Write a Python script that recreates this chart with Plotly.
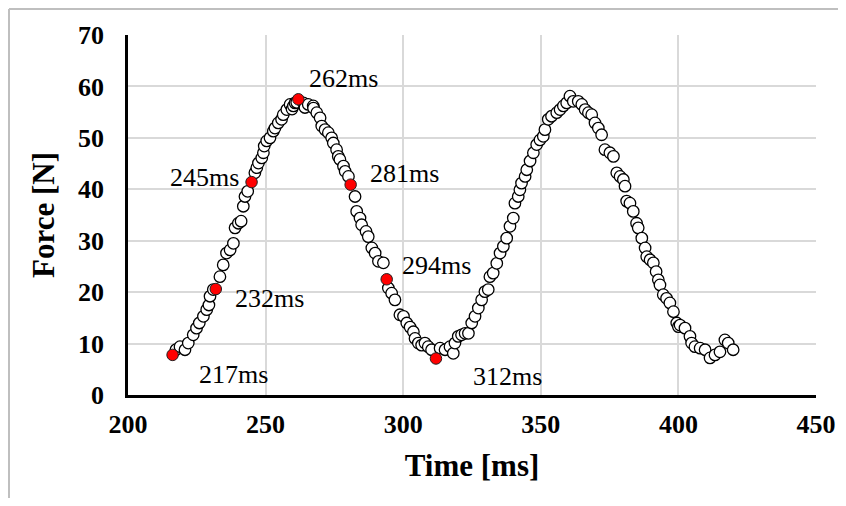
import plotly.graph_objects as go

# ---- data ----
time_ms = [
    217.4, 218.9, 220.7, 221.9, 223.7, 224.9, 225.9, 227.4, 228.6, 229.4, 229.8, 231.0,
    233.4, 234.6, 235.8, 237.1, 238.3, 238.9, 240.1, 241.1, 241.9, 242.5, 243.5,
    246.1, 246.8, 247.4, 248.6, 249.2, 249.5, 250.4, 251.6, 252.8, 253.4, 254.6, 255.8,
    256.4, 257.7, 258.9, 259.6, 260.1, 260.7, 261.3,
    263.7, 264.3, 265.5, 267.3, 267.4, 268.6, 269.8, 270.4, 271.6, 272.8, 274.0, 274.6,
    275.8, 276.4, 277.0, 278.3, 278.9, 280.1,
    282.5, 283.1, 284.3, 284.9, 286.5, 287.3, 288.6, 289.8, 291.0, 292.8,
    294.6, 295.8, 297.0, 298.8, 300.1, 301.3, 302.5, 303.7, 304.3, 305.5, 306.7, 307.9,
    309.1, 310.3,
    313.4, 315.2, 317.0, 318.2, 318.8, 320.0, 321.2, 322.5, 323.7, 324.9, 326.1, 327.3,
    328.5, 329.7, 330.9, 331.5, 332.7, 334.0, 335.2, 336.4, 337.6, 338.8, 340.0, 340.6,
    341.8, 342.4, 343.0, 344.3, 344.9, 346.1, 347.3, 348.5, 349.7, 350.9, 351.5, 352.7,
    353.9, 355.8, 357.0, 358.2, 359.4, 360.6, 361.8, 363.6, 364.9, 366.1, 367.3, 368.5,
    369.7, 370.9, 372.1, 373.3, 375.1, 376.4, 377.6, 378.8, 380.0, 380.6, 381.2, 382.4,
    383.6, 384.8, 385.4, 386.7, 387.9, 388.5, 389.7, 390.9, 391.9, 392.7, 393.3, 394.5,
    395.7, 396.9, 398.2, 399.4, 400.0, 400.6, 402.4, 404.2, 404.8, 406.0, 407.9, 409.7,
    411.5, 413.3, 415.1, 416.9, 418.1, 419.9,
]
force_N = [
    8.8, 9.4, 8.8, 10.1, 11.7, 13.0, 14.0, 15.3, 16.6, 17.5, 19.2, 20.5,
    23.0, 25.3, 27.6, 28.2, 29.5, 32.5, 33.4, 33.8, 36.7, 38.6, 39.6,
    43.2, 44.2, 45.1, 46.1, 47.1, 48.4, 49.4, 50.0, 51.3, 51.9, 52.9, 53.6,
    54.5, 55.5, 56.5, 55.6, 56.2, 56.8, 56.9,
    56.8, 55.9, 56.5, 56.2, 55.8, 54.9, 53.9, 52.3, 51.6, 51.0, 50.0, 49.0,
    47.7, 46.4, 45.8, 44.5, 43.5, 42.5,
    38.6, 35.7, 34.4, 33.1, 31.8, 30.8, 28.6, 27.6, 26.0, 25.7,
    20.8, 19.8, 18.5, 15.6, 15.3, 14.0, 13.2, 12.3, 11.0, 10.1, 9.7, 10.1,
    9.4, 8.8,
    9.1, 8.8, 9.4, 8.1, 10.1, 11.4, 11.7, 12.0, 12.0, 14.0, 15.3, 16.9,
    18.5, 20.1, 20.5, 23.0, 23.7, 25.6, 27.6, 28.9, 30.5, 32.8, 34.4, 37.3,
    38.6, 39.9, 41.2, 42.5, 43.8, 45.5, 47.1, 48.7, 49.6, 50.3, 51.6, 53.6,
    54.2, 54.9, 55.5, 56.2, 56.8, 58.1, 57.1, 57.1, 56.5, 55.5, 54.9, 54.5,
    52.9, 51.9, 50.6, 47.7, 47.1, 46.4, 43.2, 42.5, 41.9, 40.6, 37.7, 37.3,
    35.7, 33.4, 32.5, 30.5, 28.6, 26.9, 26.3, 25.7, 24.0, 22.4, 21.4, 19.5,
    18.8, 17.9, 16.2, 14.0, 13.3, 13.6, 13.0, 11.4, 10.1, 9.4, 9.1, 8.8,
    7.2, 7.8, 8.4, 10.7, 10.1, 8.8,
]

marked_time_ms = [216.2, 231.9, 244.9, 261.9, 280.9, 294.0, 311.9]
marked_force_N = [7.8, 20.6, 41.4, 57.5, 40.9, 22.5, 7.1]
marked_labels = ["217ms", "232ms", "245ms", "262ms", "281ms", "294ms", "312ms"]
# pixel offsets of each label from its point
label_dx = [61, 54, -47, 45, 54, 50, 72]
label_dy = [-20, -9, 5, 21, 11, 14, -18]

x_ticks = [200, 250, 300, 350, 400, 450]
y_ticks = [0, 10, 20, 30, 40, 50, 60, 70]

SERIF = "Liberation Serif, Times New Roman, serif"

fig = go.Figure()
fig.add_trace(go.Scatter(
    x=time_ms, y=force_N, mode="markers",
    marker=dict(size=11.5, color="white", line=dict(color="black", width=1.3)),
    showlegend=False, hoverinfo="x+y",
))
fig.add_trace(go.Scatter(
    x=marked_time_ms, y=marked_force_N, mode="markers",
    marker=dict(size=11.5, color="#ff0000", line=dict(color="#202020", width=1.0)),
    showlegend=False, hoverinfo="x+y",
))

for xt, yf, lab, dx, dy in zip(marked_time_ms, marked_force_N, marked_labels, label_dx, label_dy):
    fig.add_annotation(x=xt, y=yf, text=lab, showarrow=False, xshift=dx, yshift=dy,
                       xanchor="center", yanchor="middle",
                       font=dict(family=SERIF, size=26, color="black"))

# figure sits inside the page's 8px body margin
W, H = 830, 490
ml, mr, mt, mb = 120, 22, 27, 103
pw, ph = W - ml - mr, H - mt - mb
# outer chart-area border (gray): top and left edges only
top_y = (H - mb - 1) / ph
left_x = (1 - ml) / pw
fig.add_shape(type="line", xref="paper", yref="paper",
              x0=left_x, x1=(W + 10 - ml) / pw, y0=top_y, y1=top_y,
              line=dict(color="#bfbfbf", width=2), layer="below")
fig.add_shape(type="line", xref="paper", yref="paper",
              x0=left_x, x1=left_x, y0=(H - mb - (H + 10)) / ph, y1=top_y,
              line=dict(color="#bfbfbf", width=2), layer="below")

fig.update_layout(
    width=W, height=H,
    margin=dict(l=ml, r=mr, t=mt, b=mb, autoexpand=False),
    paper_bgcolor="white", plot_bgcolor="white",
    font=dict(family=SERIF, color="black"),
)
fig.update_xaxes(
    range=[200, 450], tickvals=x_ticks, ticktext=[str(v) for v in x_ticks],
    showgrid=True, gridcolor="#d9d9d9", gridwidth=1.5,
    showline=True, linecolor="black", linewidth=3, zeroline=False,
    ticks="", ticklabelstandoff=4,
    tickfont=dict(family=SERIF, size=26, color="black", weight="bold"),
    title=dict(text="Time [ms]", standoff=17,
               font=dict(family=SERIF, size=31, color="black", weight="bold")),
)
fig.update_yaxes(
    range=[0, 70], tickvals=y_ticks, ticktext=[str(v) for v in y_ticks],
    showgrid=True, gridcolor="#d9d9d9", gridwidth=1.5,
    showline=True, linecolor="black", linewidth=2.5, zeroline=False,
    ticks="", ticklabelstandoff=16,
    tickfont=dict(family=SERIF, size=26, color="black", weight="bold"),
    title=dict(text="Force [N]", standoff=15,
               font=dict(family=SERIF, size=31, color="black", weight="bold")),
)

fig.write_html("out.html")
